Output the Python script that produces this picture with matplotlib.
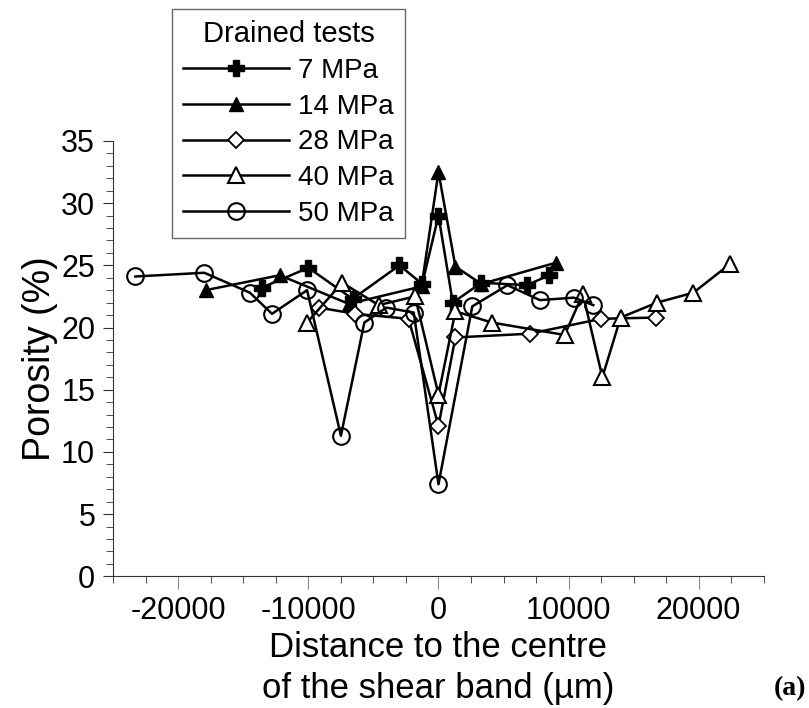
import matplotlib
matplotlib.use('Agg')
import matplotlib.pyplot as plt
from matplotlib.ticker import MultipleLocator

plt.rcParams['font.family'] = ['Liberation Sans', 'DejaVu Sans']
plt.rcParams['axes.unicode_minus'] = False

# Данные: расстояние до центра полосы сдвига (мкм) и пористость (%)
x_7 = [-13600, -10000, -6600, -3000, -1250, 0, 1100, 3300, 6800, 8500]
y_7 = [23.2, 24.8, 22.3, 25.0, 23.5, 29.0, 22.0, 23.6, 23.4, 24.2]

x_14 = [-17900, -12200, -6900, -1300, 0, 1300, 3300, 9000]
y_14 = [23.0, 24.2, 21.9, 23.3, 32.5, 24.9, 23.5, 25.2]

x_28 = [-9200, -6400, -2300, 0, 1300, 7000, 12500, 16700]
y_28 = [21.6, 21.1, 20.7, 12.1, 19.2, 19.5, 20.7, 20.8]

x_40 = [-10100, -7400, -4600, -1800, 0, 1300, 4100, 9700, 11100, 12600, 14000, 16800, 19600, 22400]
y_40 = [20.4, 23.6, 21.8, 22.5, 14.6, 21.3, 20.4, 19.4, 22.7, 16.0, 20.8, 22.0, 22.8, 25.1]

x_50 = [-23300, -18000, -14500, -12800, -10100, -7500, -5700, -4000, -1900, 0, 2600, 5300, 7800, 10400, 11900]
y_50 = [24.1, 24.4, 22.8, 21.1, 23.0, 11.3, 20.4, 21.6, 21.2, 7.4, 21.7, 23.4, 22.2, 22.4, 21.8]

labels = ['7 MPa', '14 MPa', '28 MPa', '40 MPa', '50 MPa']

fig = plt.figure(figsize=(8.09, 7.08), dpi=100)
ax = fig.add_axes([0.14, 0.186, 0.804, 0.615])

lw = 1.8
ax.plot(x_7, y_7, color='black', lw=lw, marker='P', ms=11, mfc='black', mec='black', label=labels[0])
ax.plot(x_14, y_14, color='black', lw=lw, marker='^', ms=10, mfc='black', mec='black', label=labels[1])
ax.plot(x_28, y_28, color='black', lw=lw, marker='D', ms=8, mfc='white', mec='black', mew=1.3, label=labels[2])
ax.plot(x_40, y_40, color='black', lw=lw, marker='^', ms=11, mfc='white', mec='black', mew=1.5, label=labels[3])
ax.plot(x_50, y_50, color='black', lw=lw, marker='o', ms=12, mfc='none', mec='black', mew=1.5, label=labels[4])

ax.set_xlim(-25000, 25000)
ax.set_ylim(0, 35)
ax.spines['top'].set_visible(False)
ax.spines['right'].set_visible(False)
ax.spines['left'].set_color('#333333')
ax.spines['bottom'].set_color('#333333')

ax.xaxis.set_minor_locator(MultipleLocator(2500))
ax.yaxis.set_major_locator(MultipleLocator(5))
ax.yaxis.set_minor_locator(MultipleLocator(1))
ax.set_xticks([-20000, -10000, 0, 10000, 20000])
ax.tick_params(axis='x', which='major', length=9, color='#888888', labelsize=22, pad=5)
ax.tick_params(axis='x', which='minor', length=5, color='#333333')
ax.tick_params(axis='y', which='major', length=7, color='#333333', labelsize=22, pad=6)
ax.tick_params(axis='y', which='minor', length=5, color='#333333')

ax.set_xlabel('Distance to the centre\nof the shear band (µm)', fontsize=25, labelpad=4, linespacing=1.3)
ax.set_ylabel('Porosity (%)', fontsize=27, labelpad=2)

leg = fig.legend(loc='upper left', bbox_to_anchor=(0.2126, 0.987), title='Drained tests',
                 fontsize=20, title_fontsize=21, handlelength=3.8, frameon=True, fancybox=False,
                 edgecolor='#444444', borderpad=0.4, labelspacing=0.35, handletextpad=0.35,
                 borderaxespad=0)
leg.get_frame().set_linewidth(1.0)

fig.text(0.957, 0.028, '(a)', fontsize=20, fontweight='bold', family='Liberation Serif', va='center')

fig.savefig('out.png', dpi=100)
